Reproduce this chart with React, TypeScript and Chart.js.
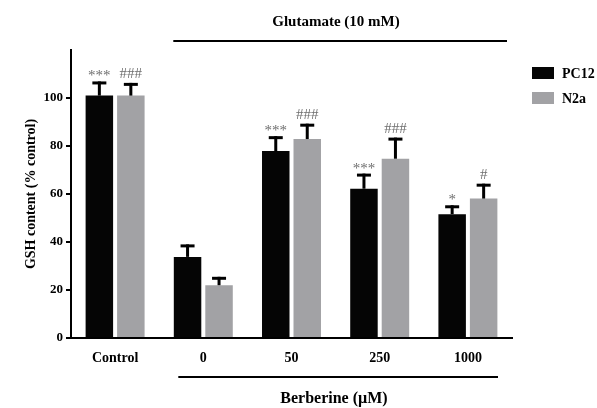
import React, { useEffect, useRef } from "react";
import { Chart, registerables } from "chart.js";

Chart.register(...registerables);

const categories = ["Control", "0", "50", "250", "1000"];
const pc12Values = [101, 33.8, 77.9, 62.2, 51.6];
const pc12Errors = [5.9, 5.2, 6.2, 6.3, 3.7];
const n2aValues = [101, 22, 82.9, 74.7, 58.1];
const n2aErrors = [5.3, 3.5, 6.4, 8.8, 6.2];
const pc12Marks = ["***", "", "***", "***", "*"];
const n2aMarks = ["###", "", "###", "###", "#"];
const yTicks = [0, 20, 40, 60, 80, 100];
const seriesNames = ["PC12", "N2a"];
const topLabel = "Glutamate (10 mM)";
const bottomLabel = "Berberine (\u00b5M)";
const yTitle = "GSH content (% control)";

const SERIF = "'Liberation Serif', 'Times New Roman', serif";
const colors = ["#050505", "#a2a2a5"];

const decorPlugin = {
  id: "decor",
  afterDatasetsDraw(chart: any) {
    const ctx = chart.ctx;
    const y = chart.scales.y;
    const x = chart.scales.x;
    const errs = [pc12Errors, n2aErrors];
    const marks = [pc12Marks, n2aMarks];
    ctx.save();
    chart.data.datasets.forEach((ds: any, di: number) => {
      const meta = chart.getDatasetMeta(di);
      meta.data.forEach((bar: any, i: number) => {
        const v = ds.data[i];
        const top = y.getPixelForValue(v + errs[di][i]);
        const base = y.getPixelForValue(v);
        ctx.strokeStyle = "#000";
        ctx.lineWidth = 3;
        ctx.beginPath();
        ctx.moveTo(bar.x, base);
        ctx.lineTo(bar.x, top);
        ctx.stroke();
        ctx.beginPath();
        ctx.moveTo(bar.x - 7, top + 1.5);
        ctx.lineTo(bar.x + 7, top + 1.5);
        ctx.stroke();
        const m = marks[di][i];
        if (m) {
          ctx.fillStyle = "#6e6e6e";
          ctx.font = `15px ${SERIF}`;
          ctx.textAlign = "center";
          ctx.textBaseline = "alphabetic";
          const isStar = m.charAt(0) === "*";
          ctx.fillText(m, bar.x, isStar ? top - 1 : top - 5);
        }
      });
    });
    // top glutamate line and label
    const g0 = x.getPixelForValue(1) - 30;
    const g1 = chart.chartArea.right - 5;
    ctx.strokeStyle = "#000";
    ctx.lineWidth = 2;
    ctx.beginPath();
    ctx.moveTo(g0, 41);
    ctx.lineTo(g1, 41);
    ctx.stroke();
    ctx.fillStyle = "#000";
    ctx.font = `bold 15px ${SERIF}`;
    ctx.textAlign = "center";
    ctx.textBaseline = "middle";
    ctx.fillText(topLabel, 336, 22);
    // bottom berberine line and label
    const b0 = x.getPixelForValue(1) - 25;
    const b1 = chart.chartArea.right - 14;
    ctx.beginPath();
    ctx.moveTo(b0, 377);
    ctx.lineTo(b1, 377);
    ctx.stroke();
    ctx.font = `bold 16px ${SERIF}`;
    ctx.fillText(bottomLabel, 334, 399);
    // legend
    ctx.font = `bold 14px ${SERIF}`;
    ctx.textAlign = "left";
    seriesNames.forEach((n, i) => {
      const cy = 73 + i * 25;
      ctx.fillStyle = colors[i];
      ctx.fillRect(532, cy - 6, 22, 12);
      ctx.fillStyle = "#000";
      ctx.fillText(n, 562, cy + 1);
    });
    ctx.restore();
  },
};

export default function App() {
  const ref = useRef<HTMLCanvasElement | null>(null);
  useEffect(() => {
    if (!ref.current) return;
    const chart = new Chart(ref.current, {
      type: "bar",
      data: {
        labels: categories,
        datasets: [
          { label: seriesNames[0], data: pc12Values, backgroundColor: colors[0] },
          { label: seriesNames[1], data: n2aValues, backgroundColor: colors[1] },
        ],
      },
      options: {
        animation: false,
        responsive: false,
        devicePixelRatio: 1,
        datasets: { bar: { categoryPercentage: 0.714, barPercentage: 0.873 } },
        layout: { padding: { top: 50, right: 85, bottom: 0, left: 0 } },
        plugins: { legend: { display: false }, tooltip: { enabled: false } },
        scales: {
          x: {
            grid: { display: false, drawTicks: false },
            border: { color: "#000", width: 2 },
            ticks: {
              color: "#000",
              padding: 12,
              font: { family: SERIF, size: 14, weight: "bold" },
            },
            afterFit(s: any) {
              s.height = 70;
            },
          },
          y: {
            min: 0,
            max: 120,
            grid: {
              drawOnChartArea: false,
              drawTicks: true,
              tickLength: 5,
              color: "#000",
              lineWidth: 2,
            },
            border: { color: "#000", width: 2 },
            afterBuildTicks(s: any) {
              s.ticks = yTicks.map((v) => ({ value: v }));
            },
            ticks: {
              color: "#000",
              padding: 3,
              font: { family: SERIF, size: 13, weight: "bold" },
            },
            title: {
              display: true,
              text: yTitle,
              color: "#000",
              padding: { top: 23, bottom: 0 },
              font: { family: SERIF, size: 14, weight: "bold" },
            },
            afterFit(s: any) {
              s.width = 71;
            },
          },
        },
      } as any,
      plugins: [decorPlugin],
    });
    return () => chart.destroy();
  }, []);
  return (
    <div style={{ position: "fixed", left: 0, top: 0, width: 597, height: 408, background: "#fff" }}>
      <canvas ref={ref} width={597} height={408} style={{ width: 597, height: 408 }} />
    </div>
  );
}
